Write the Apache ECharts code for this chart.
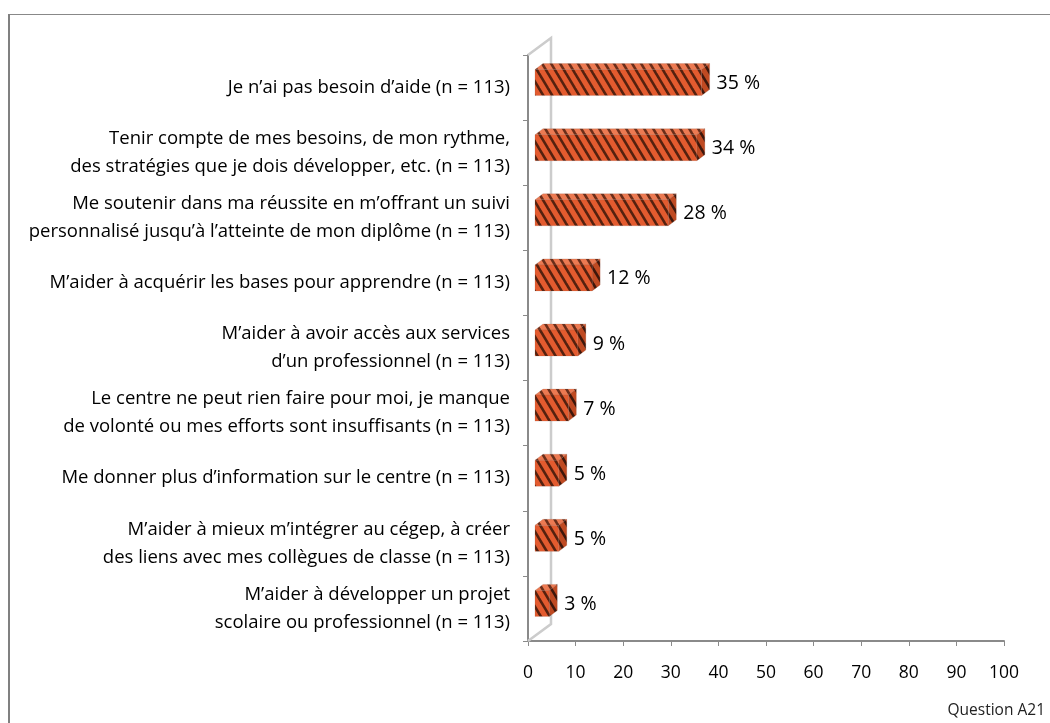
<!DOCTYPE html>
<html>
<head>
<meta charset="utf-8">
<script src="https://cdn.jsdelivr.net/npm/echarts@6/dist/echarts.min.js"></script>
<style>
html,body{margin:0;padding:0;background:#fff;}
#main{width:1050px;height:723px;}
</style>
</head>
<body>
<div id="main"></div>
<script>
var categories = [
  "Je n\u2019ai pas besoin d\u2019aide (n = 113)",
  "Tenir compte de mes besoins, de mon rythme,\ndes strat\u00e9gies que je dois d\u00e9velopper, etc. (n = 113)",
  "Me soutenir dans ma r\u00e9ussite en m\u2019offrant un suivi\npersonnalis\u00e9 jusqu\u2019\u00e0 l\u2019atteinte de mon dipl\u00f4me (n = 113)",
  "M\u2019aider \u00e0 acqu\u00e9rir les bases pour apprendre (n = 113)",
  "M\u2019aider \u00e0 avoir acc\u00e8s aux services\nd\u2019un professionnel (n = 113)",
  "Le centre ne peut rien faire pour moi, je manque\nde volont\u00e9 ou mes efforts sont insuffisants (n = 113)",
  "Me donner plus d\u2019information sur le centre (n = 113)",
  "M\u2019aider \u00e0 mieux m\u2019int\u00e9grer au c\u00e9gep, \u00e0 cr\u00e9er\ndes liens avec mes coll\u00e8gues de classe (n = 113)",
  "M\u2019aider \u00e0 d\u00e9velopper un projet\nscolaire ou professionnel (n = 113)"
];
var values = [35, 34, 28, 12, 9, 7, 5, 5, 3];
var xTicks = [0, 10, 20, 30, 40, 50, 60, 70, 80, 90, 100];
var footnote = "Question A21";

var FONT = 'Open Sans, Liberation Sans, Arial, sans-serif';

function makePattern(base, stripe) {
  var w = 9, h = 15;
  var c = document.createElement('canvas');
  c.width = w; c.height = h;
  var ctx = c.getContext('2d');
  ctx.fillStyle = base;
  ctx.fillRect(0, 0, w, h);
  ctx.strokeStyle = stripe;
  ctx.lineWidth = 2.6;
  for (var k = -1; k <= 1; k++) {
    ctx.beginPath();
    ctx.moveTo(-w, (k - 1) * h);
    ctx.lineTo(2 * w, (k + 2) * h);
    ctx.stroke();
  }
  return c;
}
var frontPat = makePattern('#E35B2F', '#55210f');
var topPat = makePattern('#EC7A52', '#6a2e1a');
var sidePat = makePattern('#BF4A22', '#3e170b');

var chart = echarts.init(document.getElementById('main'), null, {renderer: 'canvas'});
var GL = 528, GT = 55, GR = 1004, GB = 641;
var OX = 8, OY = 6;

chart.setOption({
  animation: false,
  backgroundColor: '#ffffff',
  grid: {left: GL, top: GT, right: 1050 - GR, bottom: 723 - GB, containLabel: false},
  xAxis: {
    type: 'value', min: 0, max: 100, interval: 10,
    axisLine: {show: true, lineStyle: {color: '#8a8a8a', width: 2}},
    axisTick: {show: true, length: 5, lineStyle: {color: '#8a8a8a', width: 1}},
    splitLine: {show: false},
    axisLabel: {fontFamily: FONT, fontSize: 17.5, color: '#000', margin: 23,
      formatter: function (v) { return xTicks.indexOf(v) >= 0 ? String(v) : ''; }}
  },
  yAxis: {
    type: 'category', inverse: true, data: categories,
    axisLine: {show: true, lineStyle: {color: '#8a8a8a', width: 2}},
    axisTick: {show: true, length: 5, lineStyle: {color: '#8a8a8a', width: 1}},
    axisLabel: {fontFamily: FONT, fontSize: 18.5, color: '#000', margin: 18,
      align: 'right', lineHeight: 28}
  },
  series: [{
    type: 'custom',
    data: values.map(function (v, i) { return [v, i]; }),
    encode: {x: 0, y: 1},
    renderItem: function (params, api) {
      var v = api.value(0), ci = api.value(1);
      var p0 = api.coord([0, ci]);
      var p1 = api.coord([v, ci]);
      var x0 = p0[0] + 7, x1 = p1[0] + 7;
      var cy = p0[1] - 5;
      var h = 26;
      var yT = cy - h / 2, yB = cy + h / 2;
      return {
        type: 'group',
        children: [
          {type: 'polygon', shape: {points: [[x0, yT], [x1, yT], [x1 + OX, yT - OY], [x0 + OX, yT - OY]]},
            style: {fill: {image: topPat, repeat: 'repeat'}, stroke: 'rgba(150,90,70,0.35)', lineWidth: 0.6}},
          {type: 'polygon', shape: {points: [[x1, yT], [x1 + OX, yT - OY], [x1 + OX, yB - OY], [x1, yB]]},
            style: {fill: {image: sidePat, repeat: 'repeat'}, stroke: 'rgba(150,90,70,0.35)', lineWidth: 0.6}},
          {type: 'rect', shape: {x: x0, y: yT, width: x1 - x0, height: h},
            style: {fill: {image: frontPat, repeat: 'repeat'}, stroke: 'rgba(150,90,70,0.3)', lineWidth: 0.6}},
          {type: 'text', style: {text: v + ' %', x: x1 + OX + 7, y: cy + 1, verticalAlign: 'middle', align: 'left',
            fontFamily: FONT, fontSize: 19.5, fill: '#000'}}
        ]
      };
    },
    z: 5
  }]
});

// decorative 3D side wall, derived from the grid rectangle
var wx = 23, wy = 17;
chart.setOption({
  graphic: [
    {type: 'polyline', z: 1, shape: {points: [[GL, GT], [GL + wx, GT - wy], [GL + wx, GB - wy], [GL, GB]]},
      style: {stroke: '#cccccc', lineWidth: 2.5, fill: null}},
    {type: 'line', z: 0, shape: {x1: 9, y1: 14.5, x2: 1050, y2: 14.5}, style: {stroke: '#888', lineWidth: 1.2}},
    {type: 'line', z: 0, shape: {x1: 9, y1: 14, x2: 9, y2: 723}, style: {stroke: '#808080', lineWidth: 2}},
    {type: 'text', right: 5, top: 703, style: {text: footnote, fontFamily: FONT, fontSize: 15.5, fill: '#222'}}
  ]
});
</script>
</body>
</html>
